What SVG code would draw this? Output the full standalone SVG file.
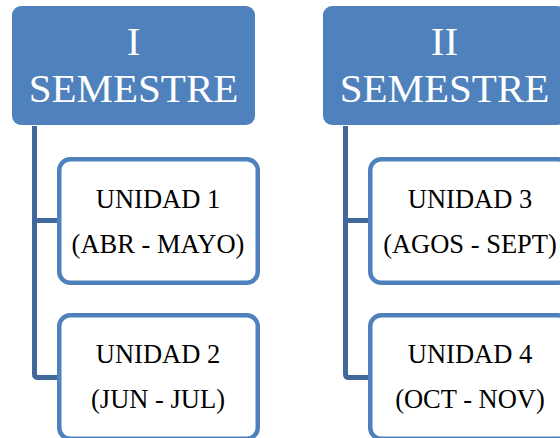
<svg xmlns="http://www.w3.org/2000/svg" width="560" height="438" viewBox="0 0 560 438">
<style>
.head{fill:#4f81bd}
.ht{fill:#fff;font-family:"Liberation Serif",serif;font-size:41px;text-anchor:middle}
.child{fill:#fff;stroke:#4f81bd;stroke-width:4.5}
.ct{fill:#000;font-family:"Liberation Serif",serif;font-size:26.5px;text-anchor:middle}
.conn{fill:none;stroke:#41689a;stroke-width:5;stroke-linejoin:round}
</style>
<rect width="560" height="438" fill="#fff"/>
<g id="connectors">
<path class="conn" d="M34.5 126 V374 Q34.5 377.5 38 377.5 H59 M34.5 220.5 H59"/>
<path class="conn" d="M345.5 126 V374 Q345.5 377.5 349 377.5 H370 M345.5 220.5 H370"/>
</g>
<g id="sem1">
<rect class="head" x="12" y="6" width="243" height="119" rx="9"/>
<text class="ht" x="133.5" y="55">I</text>
<text class="ht" x="133.5" y="102">SEMESTRE</text>
</g>
<g id="sem2">
<rect class="head" x="323" y="6" width="243" height="119" rx="9"/>
<text class="ht" x="444.5" y="55">II</text>
<text class="ht" x="444.5" y="102">SEMESTRE</text>
</g>
<g id="u1">
<rect class="child" x="59.25" y="159.25" width="198.5" height="123.5" rx="11"/>
<text class="ct" x="158" y="208">UNIDAD 1</text>
<text class="ct" x="158" y="253">(ABR - MAYO)</text>
</g>
<g id="u2">
<rect class="child" x="59.25" y="315.25" width="198.5" height="123.5" rx="11"/>
<text class="ct" x="158" y="363">UNIDAD 2</text>
<text class="ct" x="158" y="408">(JUN - JUL)</text>
</g>
<g id="u3">
<rect class="child" x="370.25" y="159.25" width="198.5" height="123.5" rx="11"/>
<text class="ct" x="470" y="208">UNIDAD 3</text>
<text class="ct" x="470" y="253">(AGOS - SEPT)</text>
</g>
<g id="u4">
<rect class="child" x="370.25" y="315.25" width="198.5" height="123.5" rx="11"/>
<text class="ct" x="470" y="363">UNIDAD 4</text>
<text class="ct" x="470" y="408">(OCT - NOV)</text>
</g>
</svg>
